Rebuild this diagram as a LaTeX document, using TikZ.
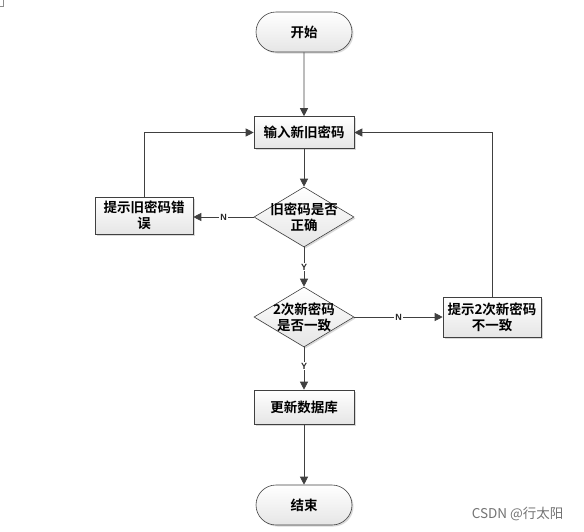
\documentclass[tikz,border=0pt]{standalone}
\usepackage{fontspec}
\newfontfamily\cjk{Noto Sans CJK SC}
\newfontfamily\cjkb{Noto Sans CJK SC Bold}
\setsansfont{Liberation Sans}
\usetikzlibrary{shapes.geometric,shapes.misc,shadows,arrows.meta}
\begin{document}
\begin{tikzpicture}[x=1pt,y=-1pt,
  txt/.style={font=\cjkb\fontsize{13.5}{16}\selectfont, align=center},
  base/.style={draw=black!75, line width=0.6pt, top color=white, bottom color=black!10,
     drop shadow={shadow xshift=1.5pt, shadow yshift=-1.5pt, fill=black!25, opacity=0.6},
     txt, inner sep=1pt},
  term/.style={base, rounded rectangle, minimum width=98pt, minimum height=40pt},
  proc/.style={base, rectangle, minimum width=100pt, minimum height=32pt},
  dec/.style={base, diamond, aspect=1.67, minimum width=100pt, minimum height=60pt, inner sep=0pt},
  conn/.style={draw=black!75, line width=0.8pt, -{Triangle[length=8pt,width=8pt]}},
  lab/.style={font=\sffamily\bfseries\fontsize{9}{10}\selectfont, fill=white, inner sep=1pt, text=black!85}]
\useasboundingbox (0,0) rectangle (584,531);
\draw[black!45, line width=0.5pt] (0,6) -- (3,6) -- (3,0);
\node[term] (start) at (304,32) {开始};
\node[proc] (input) at (304,132.5) {输入新旧密码};
\node[dec, label={[txt]center:{旧密码是否\\正确}}] (d1) at (304,217) {};
\node[proc, minimum width=98pt, minimum height=37pt] (err1) at (144,215.5) {提示旧密码错\\误};
\node[dec, label={[txt]center:{2次新密码\\是否一致}}] (d2) at (304,317) {};
\node[proc, minimum width=98pt, minimum height=40pt] (err2) at (492,317) {提示2次新密码\\不一致};
\node[proc, minimum height=34pt] (upd) at (304,407) {更新数据库};
\node[term] (end) at (304,505) {结束};
\node[font=\cjk\fontsize{13.5}{15}\selectfont, text=black!55, anchor=east] (wm) at (567,514) {CSDN @行太阳};

\draw[conn] (start) -- (input);
\draw[conn] (input) -- (d1);
\draw[conn] (d1) -- node[lab, pos=0.5]{Y} (d2);
\draw[conn] (d2) -- node[lab, pos=0.45]{Y} (upd);
\draw[conn] (upd) -- (end);
\draw[conn] (d1.west) -- node[lab, pos=0.5]{N} (err1.east |- d1.west);
\draw[conn] (d2.east) -- node[lab, pos=0.5]{N} (err2.west |- d2.east);
\draw[conn] (err1.north) |- (input.west);
\draw[conn] (err2.north) |- (input.east);
\end{tikzpicture}
\end{document}
